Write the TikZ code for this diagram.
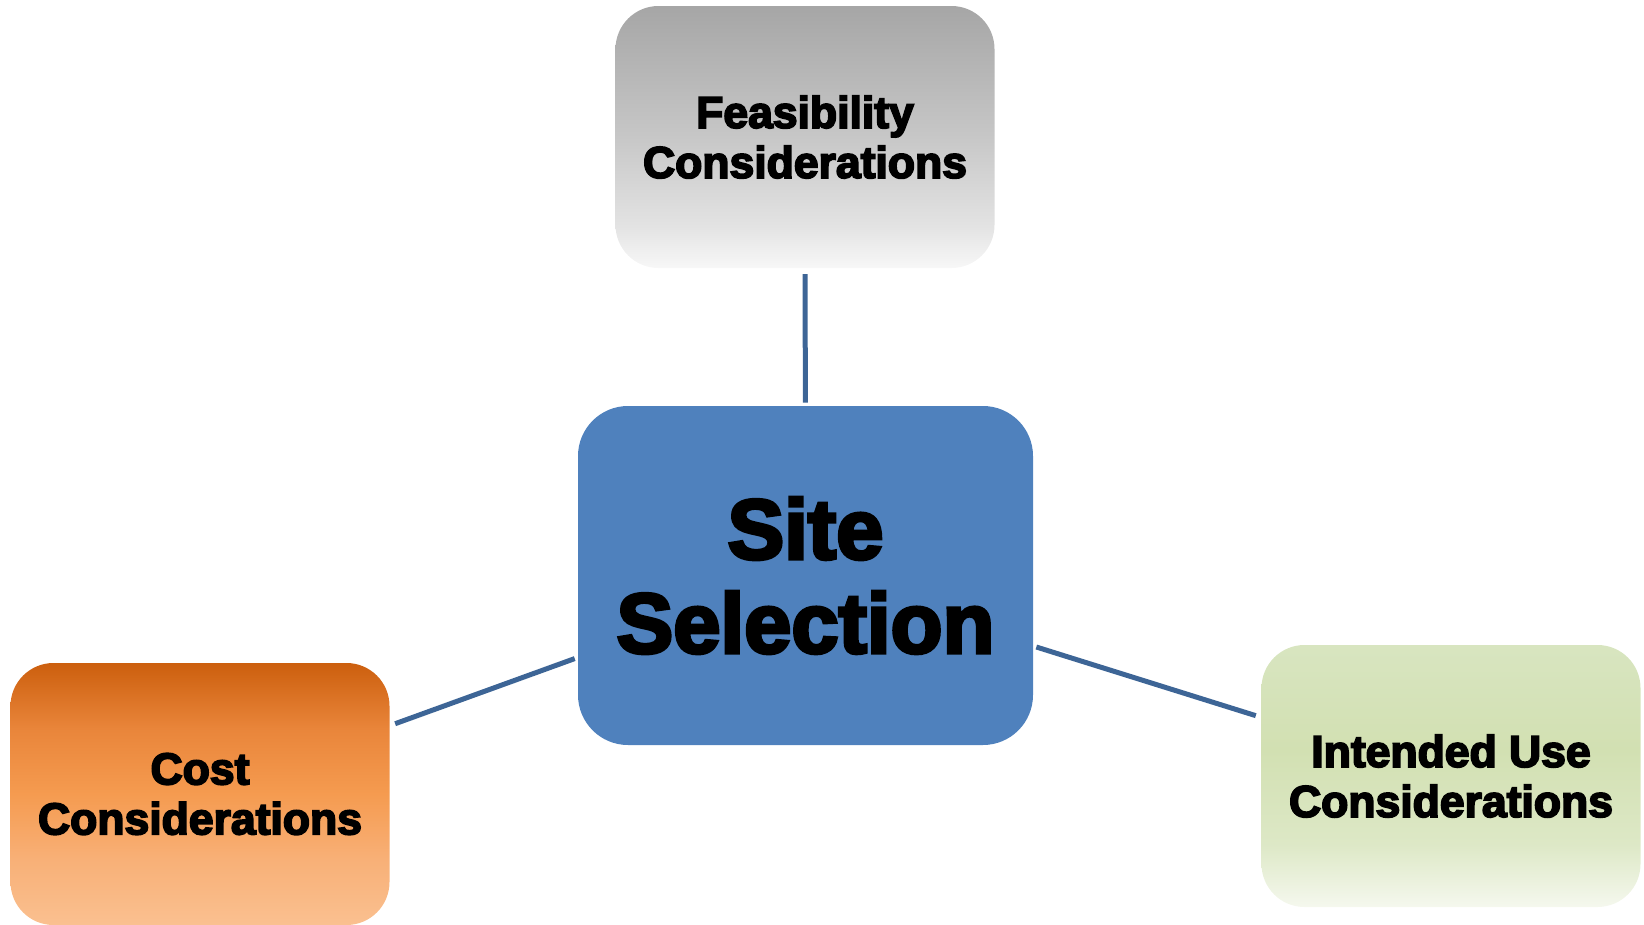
\documentclass[tikz,border=0pt]{standalone}
\usepackage{fontspec}
\newfontfamily\heavy{Liberation Sans}[UprightFont={* Bold}, FakeBold=4]
\definecolor{siteblue}{HTML}{4F81BD}
\definecolor{linkblue}{HTML}{3D6596}
\pgfdeclareverticalshading{grayfade}{100bp}{%
  color(0bp)=(white!97!black); color(25bp)=(white!97!black);
  color(33bp)=(white!89!black); color(50bp)=(white!78!black);
  color(75bp)=(white!65!black); color(100bp)=(white!65!black)}
\definecolor{or1}{HTML}{CC5F0E}
\definecolor{or2}{HTML}{E9853A}
\definecolor{or3}{HTML}{F59B50}
\definecolor{or4}{HTML}{F8B077}
\definecolor{or5}{HTML}{FAC090}
\pgfdeclareverticalshading{orangefade}{100bp}{%
  color(0bp)=(or5); color(25bp)=(or5); color(37.5bp)=(or4);
  color(50bp)=(or3); color(62.5bp)=(or2); color(75bp)=(or1); color(100bp)=(or1)}
\definecolor{gr1}{HTML}{D8E5C0}
\definecolor{gr2}{HTML}{D2E0B2}
\definecolor{gr3}{HTML}{DDE8C6}
\definecolor{gr4}{HTML}{F5F8EE}
\pgfdeclareverticalshading{greenfade}{100bp}{%
  color(0bp)=(gr4); color(25bp)=(gr4); color(37bp)=(gr3);
  color(55bp)=(gr2); color(75bp)=(gr1); color(100bp)=(gr1)}
\begin{document}
\begin{tikzpicture}[x=1pt,y=-1pt,
  box/.style={rounded corners=43pt, minimum width=379pt, minimum height=262pt,
    inner sep=0pt, outer sep=0pt, align=center, text=black,
    font=\heavy\fontsize{44.5}{50}\selectfont},
  bigbox/.style={box, rounded corners=50pt, minimum width=455pt, minimum height=339pt,
    font=\heavy\fontsize{85}{94}\selectfont},
  link/.style={draw=linkblue, line width=5pt, shorten <=3.5pt, shorten >=6pt}]
\useasboundingbox (0,0) rectangle (1644,924);
\node[box, shading=grayfade] (feas) at (805,137) {Feasibility\\Considerations};
\node[box, shading=orangefade] (cost) at (200,794) {Cost\\Considerations};
\node[box, shading=greenfade] (use) at (1451,776) {Intended Use\\Considerations};
\node[bigbox, fill=siteblue] (site) at (805.5,575.5) {Site\\Selection};
\draw[link] (site) -- (feas);
\draw[link] (site) -- (cost);
\draw[link] (site) -- (use);
\end{tikzpicture}
\end{document}
